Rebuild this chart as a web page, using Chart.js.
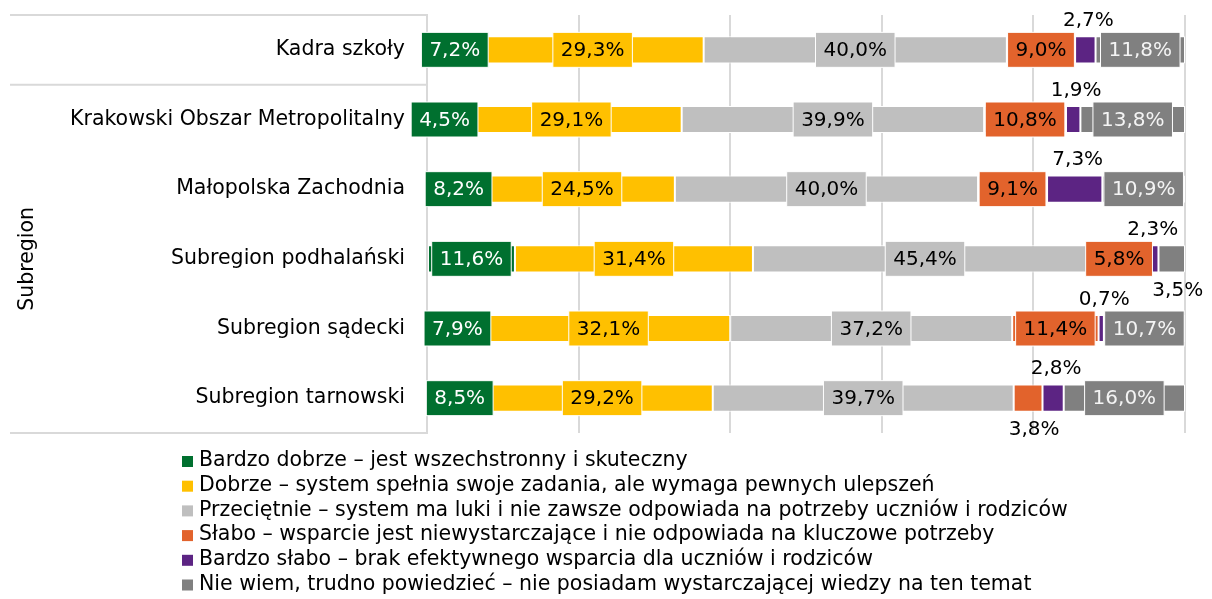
<!DOCTYPE html>
<html>
<head>
<meta charset="utf-8">
<script src="https://cdn.jsdelivr.net/npm/chart.js@4.4.1/dist/chart.umd.min.js"></script>
<style>
  html, body { margin: 0; padding: 0; background: #ffffff; }
  #wrap { width: 1212px; height: 599px; }
</style>
</head>
<body>
<div id="wrap"><canvas id="chart" width="1212" height="599"></canvas></div>
<script>
// Rows of the chart (top to bottom)
const categories = [
  'Kadra szkoły',
  'Krakowski Obszar Metropolitalny',
  'Małopolska Zachodnia',
  'Subregion podhalański',
  'Subregion sądecki',
  'Subregion tarnowski'
];
const groupLabel = 'Subregion';

// Answer options
const seriesNames = [
  'Bardzo dobrze – jest wszechstronny i skuteczny',
  'Dobrze – system spełnia swoje zadania, ale wymaga pewnych ulepszeń',
  'Przeciętnie – system ma luki i nie zawsze odpowiada na potrzeby uczniów i rodziców',
  'Słabo – wsparcie jest niewystarczające i nie odpowiada na kluczowe potrzeby',
  'Bardzo słabo – brak efektywnego wsparcia dla uczniów i rodziców',
  'Nie wiem, trudno powiedzieć – nie posiadam wystarczającej wiedzy na ten temat'
];

// Shares of answers, in %
const bardzoDobrze = [7.2, 4.5, 8.2, 11.6, 7.9, 8.5];
const dobrze       = [29.3, 29.1, 24.5, 31.4, 32.1, 29.2];
const przecietnie  = [40.0, 39.9, 40.0, 45.4, 37.2, 39.7];
const slabo        = [9.0, 10.8, 9.1, 5.8, 11.4, 3.8];
const bardzoSlabo  = [2.7, 1.9, 7.3, 2.3, 0.7, 2.8];
const nieWiem      = [11.8, 13.8, 10.9, 3.5, 10.7, 16.0];

// Axis ticks (percent)
const xTicks = [0, 20, 40, 60, 80, 100];

const seriesValues = [bardzoDobrze, dobrze, przecietnie, slabo, bardzoSlabo, nieWiem];
const seriesColors = ['#00702F', '#FFC000', '#BFBFBF', '#E2632C', '#5C2483', '#808080'];
const labelColors  = ['#FFFFFF', '#000000', '#000000', '#000000', '#FFFFFF', '#F4F4F4'];

const FONT = "'DejaVu Sans', sans-serif";
const GRID = '#D9D9D9';

const fmt = v => v.toFixed(1).replace('.', ',') + '%';

// Value labels: boxed inside the segment, or plain text outside for thin segments
const valueLabels = {
  id: 'valueLabels',
  afterDatasetsDraw(chart) {
    const ctx = chart.ctx;
    ctx.save();
    ctx.font = '20px ' + FONT;
    ctx.textAlign = 'center';
    ctx.textBaseline = 'middle';
    chart.data.datasets.forEach((ds, di) => {
      const meta = chart.getDatasetMeta(di);
      meta.data.forEach((bar, j) => {
        const v = ds.data[j];
        const txt = fmt(v);
        const cx = (bar.x + bar.base) / 2;
        const cy = bar.y;
        if (di === 4) {
          ctx.fillStyle = '#000000';
          ctx.fillText(txt, cx + 3, cy - 29);
        } else if (v < 4) {
          ctx.fillStyle = '#000000';
          ctx.fillText(txt, cx + 6, cy + 32);
        } else {
          const w = ctx.measureText(txt).width + 16;
          const h = 35;
          ctx.fillStyle = ds.backgroundColor;
          ctx.fillRect(cx - w / 2, cy - h / 2, w, h);
          ctx.strokeStyle = '#FFFFFF';
          ctx.lineWidth = 1;
          ctx.strokeRect(cx - w / 2, cy - h / 2, w, h);
          ctx.fillStyle = labelColors[di];
          ctx.fillText(txt, cx, cy + 1);
        }
      });
    });
    ctx.restore();
  }
};

// Two-level category axis: separator lines and the rotated group title
const groupAxis = {
  id: 'groupAxis',
  afterDraw(chart) {
    const ctx = chart.ctx;
    const area = chart.chartArea;
    const y = chart.scales.y;
    const sep = (y.getPixelForValue(0) + y.getPixelForValue(1)) / 2;
    ctx.save();
    ctx.strokeStyle = GRID;
    ctx.lineWidth = 2;
    [area.top, sep, area.bottom].forEach(py => {
      ctx.beginPath();
      ctx.moveTo(10, py);
      ctx.lineTo(area.left, py);
      ctx.stroke();
    });
    ctx.fillStyle = '#000000';
    ctx.font = '20.5px ' + FONT;
    ctx.textAlign = 'center';
    ctx.textBaseline = 'middle';
    ctx.translate(28, (sep + area.bottom) / 2);
    ctx.rotate(-Math.PI / 2);
    ctx.fillText(groupLabel, 0, 0);
    ctx.restore();
  }
};

// Legend: one entry per line under the plot
const listLegend = {
  id: 'listLegend',
  afterDraw(chart) {
    const ctx = chart.ctx;
    const top = chart.chartArea.bottom + 28;
    ctx.save();
    ctx.font = '20.5px ' + FONT;
    ctx.textAlign = 'left';
    ctx.textBaseline = 'middle';
    chart.data.datasets.forEach((ds, i) => {
      const cy = top + i * 24.7;
      ctx.fillStyle = ds.backgroundColor;
      ctx.fillRect(182, cy - 5, 11, 11);
      ctx.fillStyle = '#000000';
      ctx.fillText(ds.label, 199, cy);
    });
    ctx.restore();
  }
};

new Chart(document.getElementById('chart'), {
  type: 'bar',
  data: {
    labels: categories,
    datasets: seriesNames.map((name, i) => ({
      label: name,
      data: seriesValues[i],
      backgroundColor: seriesColors[i],
      borderColor: '#FFFFFF',
      borderWidth: 1,
      borderSkipped: false,
      barPercentage: 0.39,
      categoryPercentage: 1.0
    }))
  },
  options: {
    indexAxis: 'y',
    responsive: false,
    animation: false,
    devicePixelRatio: 1,
    layout: { padding: { top: 15, right: 27, bottom: 166, left: 0 } },
    plugins: {
      legend: { display: false },
      tooltip: { enabled: false }
    },
    scales: {
      x: {
        stacked: true,
        min: 0,
        max: 100,
        afterBuildTicks: s => { s.ticks = xTicks.map(v => ({ value: v })); },
        ticks: { display: false },
        grid: { color: GRID, lineWidth: 2, drawTicks: false },
        border: { display: false },
        afterFit: s => { s.height = 0; s.paddingLeft = 0; s.paddingRight = 0; }
      },
      y: {
        stacked: true,
        grid: { display: false, drawTicks: false },
        border: { display: true, color: GRID, width: 2 },
        ticks: { color: '#000000', font: { family: FONT, size: 20.5 }, padding: 22 },
        afterFit: s => { s.width = 427; s.paddingTop = 0; s.paddingBottom = 0; }
      }
    }
  },
  plugins: [valueLabels, groupAxis, listLegend]
});
</script>
</body>
</html>
